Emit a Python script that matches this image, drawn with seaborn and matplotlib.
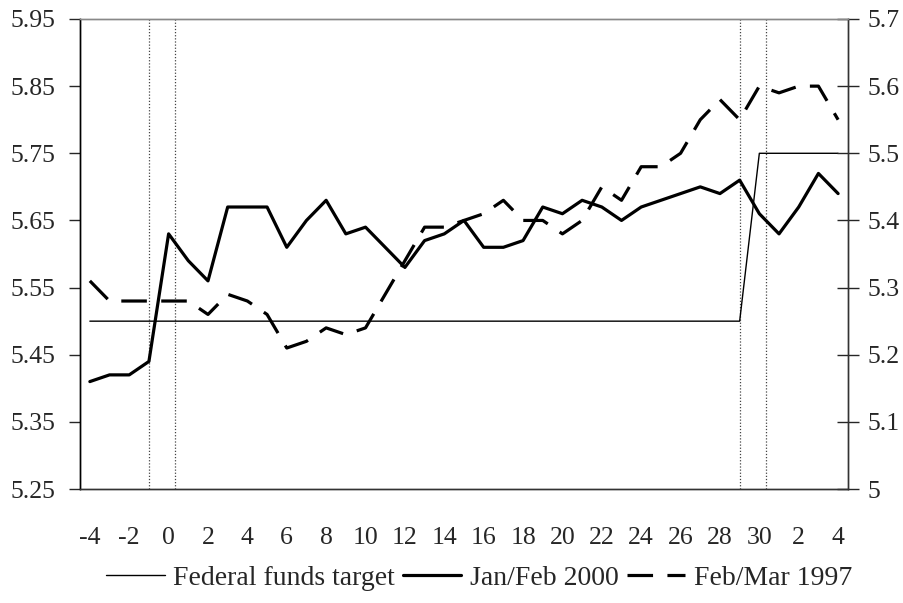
import numpy as np
import pandas as pd
import seaborn as sns
import matplotlib.pyplot as plt

# eje de dias alrededor de la subida de tipos
dias = [-4, -3, -2, -1, 0, 1, 2, 3, 4, 5, 6, 7, 8, 9, 10, 11, 12, 13, 14, 15, 16,
        17, 18, 19, 20, 21, 22, 23, 24, 25, 26, 27, 28, 29, 30, 1, 2, 3, 4]

# Federal funds target (eje izquierdo)
fed_target = [5.50] * 34 + [5.75] * 5

# Jan/Feb 2000 (eje izquierdo)
jan_feb_2000 = [5.41, 5.42, 5.42, 5.44, 5.63, 5.59, 5.56, 5.67, 5.67, 5.67,
                5.61, 5.65, 5.68, 5.63, 5.64, 5.61, 5.58, 5.62, 5.63, 5.65,
                5.61, 5.61, 5.62, 5.67, 5.66, 5.68, 5.67, 5.65, 5.67, 5.68,
                5.69, 5.70, 5.69, 5.71, 5.66, 5.63, 5.67, 5.72, 5.69]

# Feb/Mar 1997 (eje derecho)
feb_mar_1997 = [5.31, 5.28, 5.28, 5.28, 5.28, 5.28, 5.26, 5.29, 5.28, 5.26,
                5.21, 5.22, 5.24, 5.23, 5.24, 5.29, 5.34, 5.39, 5.39, 5.40,
                5.41, 5.43, 5.40, 5.40, 5.38, 5.40, 5.45, 5.43, 5.48, 5.48,
                5.50, 5.55, 5.58, 5.55, 5.60, 5.59, 5.60, 5.60, 5.55]

# lineas verticales punteadas (posicion en el eje de categorias)
eventos = [3.0, 4.33, 33.0, 34.35]

x = np.arange(len(dias))
df = pd.DataFrame({"x": x, "fed": fed_target, "y2000": jan_feb_2000, "y1997": feb_mar_1997})

sns.set_style("white")
plt.rcParams['font.family'] = ['Liberation Serif', 'DejaVu Serif']
plt.rcParams['font.size'] = 18.5

fig = plt.figure(figsize=(9.04, 6.03), dpi=100)
ax = fig.add_axes([0.0885, 0.189, 0.8495, 0.7795])
ax2 = ax.twinx()

for xe in eventos:
    ax.axvline(xe, color="#444444", lw=0.9, ls=(0, (1, 1.5)), zorder=1)

sns.lineplot(data=df, x="x", y="fed", ax=ax, color="black", lw=1.0, label="Federal funds target", legend=False)
sns.lineplot(data=df, x="x", y="y2000", ax=ax, color="black", lw=2.3, label="Jan/Feb 2000", legend=False)
sns.lineplot(data=df, x="x", y="y1997", ax=ax2, color="black", lw=2.3, label="Feb/Mar 1997", legend=False)
ax2.lines[-1].set_dashes([8, 4.5])

ax.set_xlim(-0.5, len(dias) - 0.5)
ax.set_ylim(5.25, 5.95)
ax2.set_ylim(5.0, 5.7)
ax.set_yticks(np.arange(5.25, 5.96, 0.1))
ax.set_yticklabels([f"{v:.2f}" for v in np.arange(5.25, 5.96, 0.1)])
ax2.set_yticks(np.arange(5.0, 5.71, 0.1))
ax2.set_yticklabels(["5"] + [f"{v:.1f}" for v in np.arange(5.1, 5.71, 0.1)])

# marcas entre categorias, etiquetas cada dos dias
ax.set_xticks(np.arange(-0.5, len(dias), 1.0))
ax.set_xticklabels([])
ax.set_xticks(x[::2], minor=True)
ax.set_xticklabels([str(d) for d in dias[::2]], minor=True)
ax.tick_params(axis="x", which="major", direction="out", length=7, width=1, color="#333333")
ax.tick_params(axis="x", which="minor", length=0, pad=27)
ax.tick_params(axis="y", direction="out", length=8, width=1, pad=10, left=True)
ax2.tick_params(axis="y", direction="inout", length=16, width=1, pad=6, right=True)
ax.set_xlabel("")
ax.set_ylabel("")
ax2.set_ylabel("")

for a in (ax, ax2):
    a.spines["top"].set_color("#888888")
    a.spines["left"].set_color("black")
    a.spines["right"].set_color("#333333")
    a.spines["bottom"].set_color("#333333")
    for s in a.spines.values():
        s.set_linewidth(1.0)

handles = ax.lines[-2:] + ax2.lines[-1:]
fig.legend(handles, ["Federal funds target", "Jan/Feb 2000", "Feb/Mar 1997"],
           loc="center", bbox_to_anchor=(0.53, 0.041), ncol=3, frameon=False,
           handlelength=2.1, handletextpad=0.3, columnspacing=0.3, fontsize=20)

fig.savefig("out.png", dpi=100)
